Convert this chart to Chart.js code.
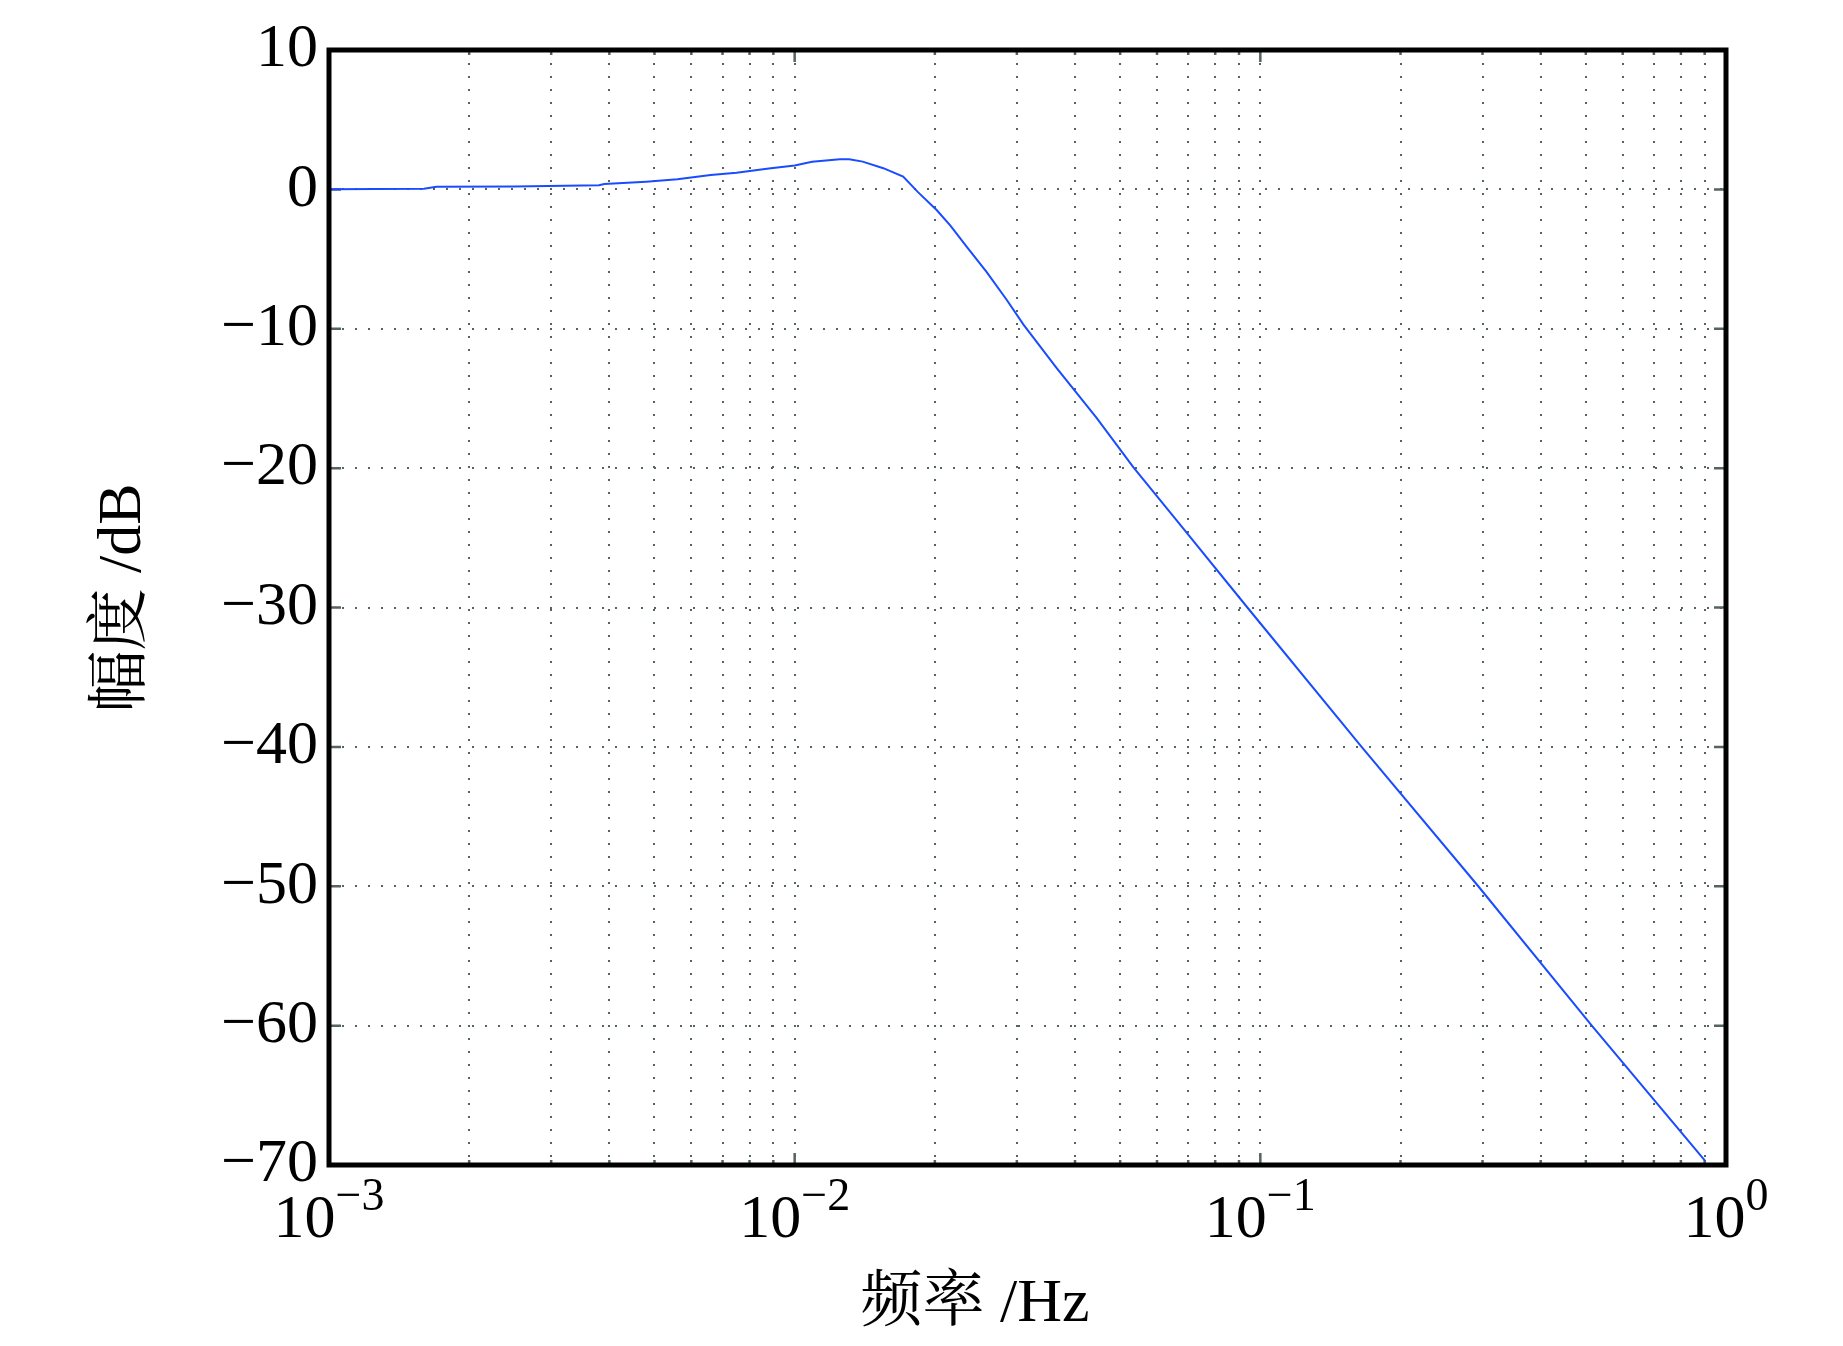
<!DOCTYPE html>
<html>
<head>
<meta charset="utf-8">
<script src="https://cdn.jsdelivr.net/npm/chart.js@4"></script>
<style>
  html, body { margin: 0; padding: 0; background: #fff; }
</style>
</head>
<body>
<canvas id="chart-bode" width="1843" height="1346"></canvas>
<script>
// frequency (Hz) and magnitude (dB)
var freq = [0.001, 0.0016, 0.0017, 0.0025, 0.0038, 0.0039, 0.0048, 0.0056, 0.0066, 0.0075,
  0.0088, 0.01, 0.0109, 0.0125, 0.0131, 0.014, 0.0155, 0.0171, 0.0184, 0.0202,
  0.0216, 0.0234, 0.0258, 0.0285, 0.031, 0.0365, 0.0445, 0.0534, 0.0678, 0.0938,
  0.165, 0.2938, 0.515, 0.902];
var gainDb = [0, 0.05, 0.19, 0.2, 0.3, 0.38, 0.55, 0.72, 1.03, 1.2,
  1.5, 1.72, 1.98, 2.17, 2.16, 1.99, 1.52, 0.92, -0.2, -1.5,
  -2.6, -4.1, -5.9, -7.9, -9.7, -12.8, -16.4, -19.95, -24.2, -30,
  -40, -50, -60, -69.7];

var xMajorTicks = [0.001, 0.01, 0.1, 1];
var xTickExponents = ['\u22123', '\u22122', '\u22121', '0'];
var xMinorSteps = [2, 3, 4, 5, 6, 7, 8, 9];
var yTicks = [10, 0, -10, -20, -30, -40, -50, -60, -70];
var xTitle = '频率 /Hz';
var yTitle = '幅度 /dB';

var serif = '"Liberation Serif", "Noto Serif CJK SC", "Noto Sans CJK SC", serif';
var gridColor = '#566363';

var xAllTicks = [];
xMajorTicks.forEach(function (m, i) {
  xAllTicks.push(m);
  if (i < xMajorTicks.length - 1) {
    xMinorSteps.forEach(function (s) { xAllTicks.push(Number((s * m).toPrecision(3))); });
  }
});

var points = freq.map(function (f, i) { return { x: f, y: gainDb[i] }; });

var framePlugin = {
  id: 'frame',
  beforeDatasetsDraw: function (chart) {
    var ctx = chart.ctx, a = chart.chartArea;
    var xs = chart.scales.x, ys = chart.scales.y;
    ctx.save();
    ctx.strokeStyle = gridColor;
    ctx.lineWidth = 2.5;
    ctx.beginPath();
    xAllTicks.forEach(function (v) {
      var px = xs.getPixelForValue(v);
      var len = xMajorTicks.indexOf(v) >= 0 ? 12 : 5;
      ctx.moveTo(px, a.bottom); ctx.lineTo(px, a.bottom - len);
      ctx.moveTo(px, a.top); ctx.lineTo(px, a.top + len);
    });
    yTicks.forEach(function (v) {
      var py = ys.getPixelForValue(v);
      ctx.moveTo(a.left, py); ctx.lineTo(a.left + 12, py);
      ctx.moveTo(a.right, py); ctx.lineTo(a.right - 12, py);
    });
    ctx.stroke();
    ctx.restore();
  },
  afterDraw: function (chart) {
    var ctx = chart.ctx, a = chart.chartArea;
    var xs = chart.scales.x;
    ctx.save();
    ctx.strokeStyle = '#000';
    ctx.lineWidth = 5;
    ctx.strokeRect(a.left, a.top, a.right - a.left, a.bottom - a.top);

    // x tick labels as 10 with a raised exponent
    ctx.fillStyle = '#000';
    ctx.textBaseline = 'alphabetic';
    ctx.textAlign = 'left';
    xMajorTicks.forEach(function (v, i) {
      var px = xs.getPixelForValue(v);
      ctx.font = '62px ' + serif;
      var wBase = ctx.measureText('10').width;
      ctx.font = '46px ' + serif;
      var wExp = ctx.measureText(xTickExponents[i]).width;
      var x0 = px - (wBase + wExp) / 2;
      ctx.font = '62px ' + serif;
      ctx.fillText('10', x0, a.bottom + 72);
      ctx.font = '46px ' + serif;
      ctx.fillText(xTickExponents[i], x0 + wBase, a.bottom + 45);
    });

    // axis titles
    ctx.font = '62px ' + serif;
    ctx.textAlign = 'center';
    ctx.textBaseline = 'middle';
    ctx.fillText(xTitle, 975, 1305);
    ctx.translate(124, 598);
    ctx.rotate(-Math.PI / 2);
    ctx.fillText(yTitle, 0, 0);
    ctx.restore();
  }
};

var ctx = document.getElementById('chart-bode').getContext('2d');
var myChart = new Chart(ctx, {
  type: 'line',
  data: {
    datasets: [
      {
        label: 'gain',
        data: points,
        borderColor: '#1a4cff',
        borderWidth: 2,
        pointRadius: 0,
        tension: 0,
        fill: false
      }
    ]
  },
  options: {
    responsive: false,
    animation: false,
    devicePixelRatio: 1,
    layout: {
      padding: { top: 50, right: 117, left: 0, bottom: 0 }
    },
    plugins: {
      legend: { display: false },
      tooltip: { enabled: false }
    },
    scales: {
      x: {
        type: 'logarithmic',
        min: 0.001,
        max: 1,
        afterBuildTicks: function (s) { s.ticks = xAllTicks.map(function (v) { return { value: v }; }); },
        afterFit: function (s) { s.height = 181; },
        ticks: { display: false },
        grid: { color: gridColor, lineWidth: 2, drawTicks: false },
        border: { display: false, dash: [2, 11] }
      },
      y: {
        type: 'linear',
        min: -70,
        max: 10,
        afterBuildTicks: function (s) { s.ticks = yTicks.map(function (v) { return { value: v }; }); },
        afterFit: function (s) { s.width = 329; },
        ticks: {
          color: '#000',
          padding: 11,
          font: { family: serif, size: 62 },
          callback: function (v) { return v < 0 ? '\u2212' + Math.abs(v) : String(v); }
        },
        grid: { color: gridColor, lineWidth: 2, drawTicks: false },
        border: { display: false, dash: [2, 11] }
      }
    }
  },
  plugins: [framePlugin]
});
</script>
</body>
</html>
